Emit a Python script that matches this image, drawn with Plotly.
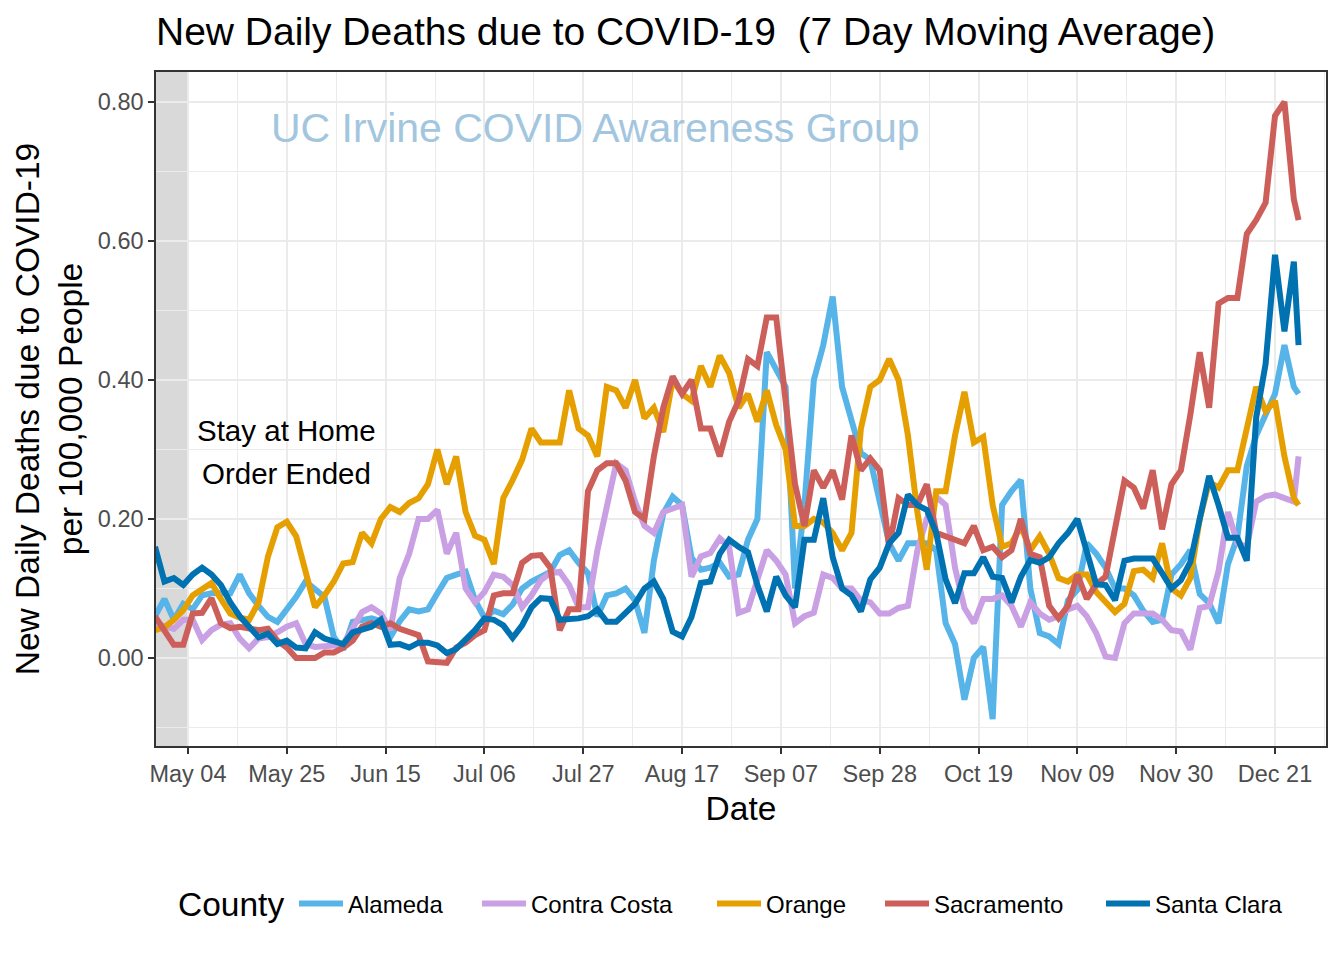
import plotly.graph_objects as go
import pandas as pd

# ---- data (7-day moving average of new daily deaths per 100,000) ----
dates = list(pd.date_range("2020-04-27", "2020-12-25", freq="2D")) + [pd.Timestamp("2020-12-26")]

alameda = [0.06, 0.085, 0.055, 0.078, 0.07, 0.09, 0.093, 0.093, 0.093, 0.12,
           0.093, 0.075, 0.059, 0.052, 0.07, 0.088, 0.11, 0.1, 0.088, 0.03,
           0.012, 0.052, 0.055, 0.057, 0.053, 0.03, 0.053, 0.07, 0.067, 0.07,
           0.093, 0.115, 0.12, 0.124, 0.083, 0.058, 0.068, 0.063, 0.077, 0.1,
           0.11, 0.118, 0.124, 0.148, 0.155, 0.137, 0.122, 0.06, 0.09, 0.093,
           0.1, 0.083, 0.036, 0.14, 0.208, 0.232, 0.22, 0.144, 0.127, 0.13,
           0.137, 0.117, 0.12, 0.17, 0.2, 0.44, 0.415, 0.39, 0.1, 0.22,
           0.4, 0.45, 0.52, 0.39, 0.342, 0.295, 0.285, 0.22, 0.165, 0.14,
           0.165, 0.165, 0.165, 0.155, 0.05, 0.02, -0.06, 0.0, 0.016, -0.088,
           0.22, 0.24, 0.256, 0.1, 0.036, 0.031, 0.02, 0.083, 0.098, 0.165,
           0.15, 0.13, 0.1, 0.1, 0.09, 0.068, 0.052, 0.055, 0.12, 0.135,
           0.155, 0.092, 0.079, 0.05, 0.135, 0.174, 0.276, 0.32, 0.35, 0.38,
           0.45, 0.39, 0.38]

contra_costa = [0.05, 0.045, 0.042, 0.055, 0.055, 0.026, 0.04, 0.048, 0.05, 0.028,
                0.014, 0.028, 0.03, 0.037, 0.045, 0.05, 0.02, 0.016, 0.016, 0.018,
                0.02, 0.045, 0.066, 0.073, 0.064, 0.04, 0.115, 0.15, 0.2, 0.2,
                0.213, 0.15, 0.18, 0.1, 0.08, 0.095, 0.12, 0.117, 0.105, 0.073,
                0.09, 0.112, 0.122, 0.124, 0.105, 0.073, 0.073, 0.155, 0.215, 0.28,
                0.27, 0.225, 0.19, 0.18, 0.21, 0.215, 0.22, 0.117, 0.146, 0.151,
                0.172, 0.16, 0.065, 0.07, 0.11, 0.155, 0.14, 0.12, 0.05, 0.06,
                0.065, 0.12, 0.115, 0.1, 0.1, 0.083, 0.08, 0.064, 0.064, 0.072,
                0.075, 0.155, 0.2, 0.232, 0.22, 0.13, 0.072, 0.05, 0.085, 0.085,
                0.09, 0.075, 0.045, 0.08, 0.064, 0.055, 0.06, 0.07, 0.075, 0.06,
                0.036, 0.002, 0.0, 0.05, 0.064, 0.064, 0.064, 0.055, 0.04, 0.038,
                0.012, 0.072, 0.075, 0.125, 0.21, 0.165, 0.16, 0.225, 0.233, 0.235,
                0.23, 0.225, 0.29]

orange = [0.04, 0.044, 0.055, 0.069, 0.09, 0.1, 0.108, 0.085, 0.064, 0.058,
          0.055, 0.08, 0.146, 0.188, 0.196, 0.175, 0.12, 0.073, 0.09, 0.11,
          0.136, 0.138, 0.18, 0.165, 0.2, 0.217, 0.21, 0.223, 0.23, 0.25,
          0.3, 0.25, 0.29, 0.21, 0.176, 0.17, 0.135, 0.23, 0.256, 0.285,
          0.33, 0.31, 0.31, 0.31, 0.385, 0.33, 0.32, 0.29, 0.39, 0.385,
          0.36, 0.4, 0.345, 0.36, 0.325, 0.4, 0.38, 0.37, 0.42, 0.39,
          0.435, 0.41, 0.36, 0.38, 0.34, 0.385, 0.335, 0.3, 0.19, 0.19,
          0.2, 0.195, 0.18, 0.155, 0.18, 0.33, 0.39, 0.4, 0.43, 0.4,
          0.32, 0.21, 0.127, 0.24, 0.24, 0.32, 0.383, 0.31, 0.318, 0.22,
          0.16, 0.165, 0.19, 0.155, 0.175, 0.15, 0.115, 0.11, 0.12, 0.12,
          0.095, 0.08, 0.066, 0.078, 0.125, 0.127, 0.115, 0.165, 0.1, 0.09,
          0.115, 0.2, 0.253, 0.245, 0.27, 0.27, 0.33, 0.39, 0.355, 0.37,
          0.29, 0.23, 0.22]

sacramento = [0.06, 0.04, 0.019, 0.019, 0.064, 0.065, 0.086, 0.05, 0.043, 0.045,
              0.042, 0.04, 0.042, 0.025, 0.015, 0.0, 0.0, 0.0, 0.008, 0.008,
              0.015, 0.025, 0.045, 0.05, 0.045, 0.05, 0.042, 0.037, 0.033, -0.005,
              -0.007, -0.007, 0.015, 0.022, 0.033, 0.04, 0.09, 0.093, 0.093, 0.137,
              0.147, 0.148, 0.13, 0.04, 0.07, 0.07, 0.24, 0.27, 0.28, 0.28,
              0.255, 0.21, 0.2, 0.29, 0.36, 0.405, 0.38, 0.4, 0.33, 0.33,
              0.29, 0.34, 0.37, 0.43, 0.42, 0.49, 0.49, 0.36, 0.25, 0.19,
              0.27, 0.245, 0.27, 0.228, 0.32, 0.27, 0.287, 0.27, 0.16, 0.23,
              0.22, 0.22, 0.25, 0.18, 0.175, 0.17, 0.165, 0.19, 0.155, 0.16,
              0.145, 0.155, 0.2, 0.15, 0.145, 0.075, 0.057, 0.075, 0.12, 0.085,
              0.106, 0.117, 0.19, 0.255, 0.245, 0.215, 0.27, 0.185, 0.25, 0.27,
              0.35, 0.44, 0.36, 0.51, 0.518, 0.518, 0.61, 0.63, 0.655, 0.78,
              0.80, 0.66, 0.63]

santa_clara = [0.16, 0.11, 0.115, 0.105, 0.12, 0.13, 0.12, 0.105, 0.08, 0.06,
               0.045, 0.03, 0.035, 0.02, 0.025, 0.015, 0.014, 0.037, 0.028, 0.025,
               0.02, 0.037, 0.04, 0.045, 0.055, 0.019, 0.02, 0.015, 0.022, 0.022,
               0.018, 0.007, 0.013, 0.026, 0.04, 0.057, 0.055, 0.047, 0.029, 0.047,
               0.073, 0.086, 0.085, 0.055, 0.055, 0.057, 0.06, 0.07, 0.052, 0.052,
               0.065, 0.078, 0.1, 0.11, 0.085, 0.038, 0.031, 0.059, 0.108, 0.11,
               0.15, 0.17, 0.16, 0.152, 0.105, 0.067, 0.117, 0.09, 0.073, 0.17,
               0.17, 0.23, 0.145, 0.1, 0.09, 0.067, 0.113, 0.13, 0.165, 0.18,
               0.235, 0.22, 0.213, 0.18, 0.113, 0.079, 0.122, 0.122, 0.145, 0.117,
               0.115, 0.08, 0.117, 0.141, 0.137, 0.145, 0.165, 0.18, 0.2, 0.15,
               0.106, 0.105, 0.083, 0.14, 0.143, 0.143, 0.143, 0.122, 0.1, 0.112,
               0.138, 0.2, 0.262, 0.22, 0.173, 0.173, 0.14, 0.346, 0.423, 0.58,
               0.47, 0.57, 0.45]

counties = ["Alameda", "Contra Costa", "Orange", "Sacramento", "Santa Clara"]
series = [alameda, contra_costa, orange, sacramento, santa_clara]
colors = ["#56B4E9", "#C9A0E3", "#E69F00", "#CD5F5A", "#0072B2"]

y_ticks = [0.0, 0.2, 0.4, 0.6, 0.8]
order_end_date = "2020-05-04"

# ---- layout geometry (page has an 8px body margin) ----
OFF = 8
W, H = 1344, 960
PW, PH = 1170, 674
ML = 156 - OFF
MT = 72 - OFF
MR = W - ML - PW
MB = H - MT - PH
FONT = "Liberation Sans, Arial, Helvetica, sans-serif"

def paper_x(page_x):
    return (page_x - OFF - ML) / PW

def paper_y(page_y):
    return (MT + PH - (page_y - OFF)) / PH

x_range = ["2020-04-27 05:00", "2020-12-31 20:00"]
y_range = [-0.1266, 0.843]

fig = go.Figure()
legend_names = ["legend", "legend2", "legend3", "legend4", "legend5"]
for name, vals, col, lg in zip(counties, series, colors, legend_names):
    fig.add_trace(go.Scatter(
        x=dates, y=vals, mode="lines", name=name,
        line=dict(color=col, width=6),
        legend=lg,
    ))

# legend positions (swatch left edge, page px)
swatch_left = [300, 483, 718, 886, 1107]
legend_y = paper_y(904)
legends = {}
for lg, sx in zip(legend_names, swatch_left):
    legends[lg] = dict(
        x=paper_x(sx - 6), xanchor="left",
        y=legend_y, yanchor="middle",
        orientation="h", bgcolor="rgba(0,0,0,0)",
        font=dict(family=FONT, size=24, color="black"),
        itemwidth=44,
    )

fig.update_layout(
    width=W, height=H,
    margin=dict(l=ML, r=MR, t=MT, b=MB, pad=0),
    paper_bgcolor="white", plot_bgcolor="white",
    font=dict(family=FONT, color="black"),
    title=dict(
        text="New Daily Deaths due to COVID-19\u00a0\u00a0(7 Day Moving Average)",
        font=dict(family=FONT, size=39, color="black"),
        x=0, xref="paper", xanchor="left",
        y=1 - (31 - OFF) / H, yref="container", yanchor="middle",
    ),
    showlegend=True,
    **legends,
)

fig.update_xaxes(
    type="date", range=x_range,
    tick0="2020-05-04", dtick=21 * 86400000, tickformat="%b %d",
    ticks="outside", ticklen=6, tickwidth=1.5, tickcolor="#333333",
    tickfont=dict(family=FONT, size=23.5, color="#4D4D4D"),
    showgrid=True, gridcolor="#EBEBEB", gridwidth=2,
    minor=dict(tick0="2020-05-04", dtick=int(10.5 * 86400000), showgrid=True,
               gridcolor="#EBEBEB", gridwidth=1, ticklen=0),
    showline=True, mirror=True, linecolor="#333333", linewidth=1.5,
    zeroline=False,
    title=dict(text="Date", font=dict(family=FONT, size=33.5, color="black"), standoff=11),
)
fig.update_yaxes(
    range=y_range,
    tickvals=y_ticks, tickformat=".2f",
    ticks="outside", ticklen=6, tickwidth=1.5, tickcolor="#333333",
    tickfont=dict(family=FONT, size=23.5, color="#4D4D4D"),
    showgrid=True, gridcolor="#EBEBEB", gridwidth=2,
    minor=dict(tick0=0, dtick=0.1, showgrid=True, gridcolor="#EBEBEB", gridwidth=1, ticklen=0),
    showline=True, mirror=True, linecolor="#333333", linewidth=1.5,
    zeroline=False,
    title=dict(text="New Daily Deaths due to COVID-19<br>per 100,000 People",
               font=dict(family=FONT, size=33.5, color="black"), standoff=5),
)

# shaded period before the stay-at-home order ended
fig.add_shape(type="rect", xref="x", yref="paper",
              x0=x_range[0], x1=order_end_date, y0=0, y1=1,
              fillcolor="#D9D9D9", line=dict(width=0), layer="below")

fig.add_annotation(x="2020-07-29 12:00", y=0.762, xref="x", yref="y",
                   text="UC Irvine COVID Awareness Group", showarrow=False,
                   font=dict(family=FONT, size=41, color="#A3C6DF"))
fig.add_annotation(x="2020-05-25", y=0.327, xref="x", yref="y",
                   text="Stay at Home", showarrow=False,
                   font=dict(family=FONT, size=29.5, color="black"))
fig.add_annotation(x="2020-05-25", y=0.265, xref="x", yref="y",
                   text="Order Ended", showarrow=False,
                   font=dict(family=FONT, size=29.5, color="black"))
fig.add_annotation(x=paper_x(176), y=legend_y, xref="paper", yref="paper",
                   xanchor="left", yanchor="middle",
                   text="County", showarrow=False,
                   font=dict(family=FONT, size=33.5, color="black"))

fig.write_html("out.html")
